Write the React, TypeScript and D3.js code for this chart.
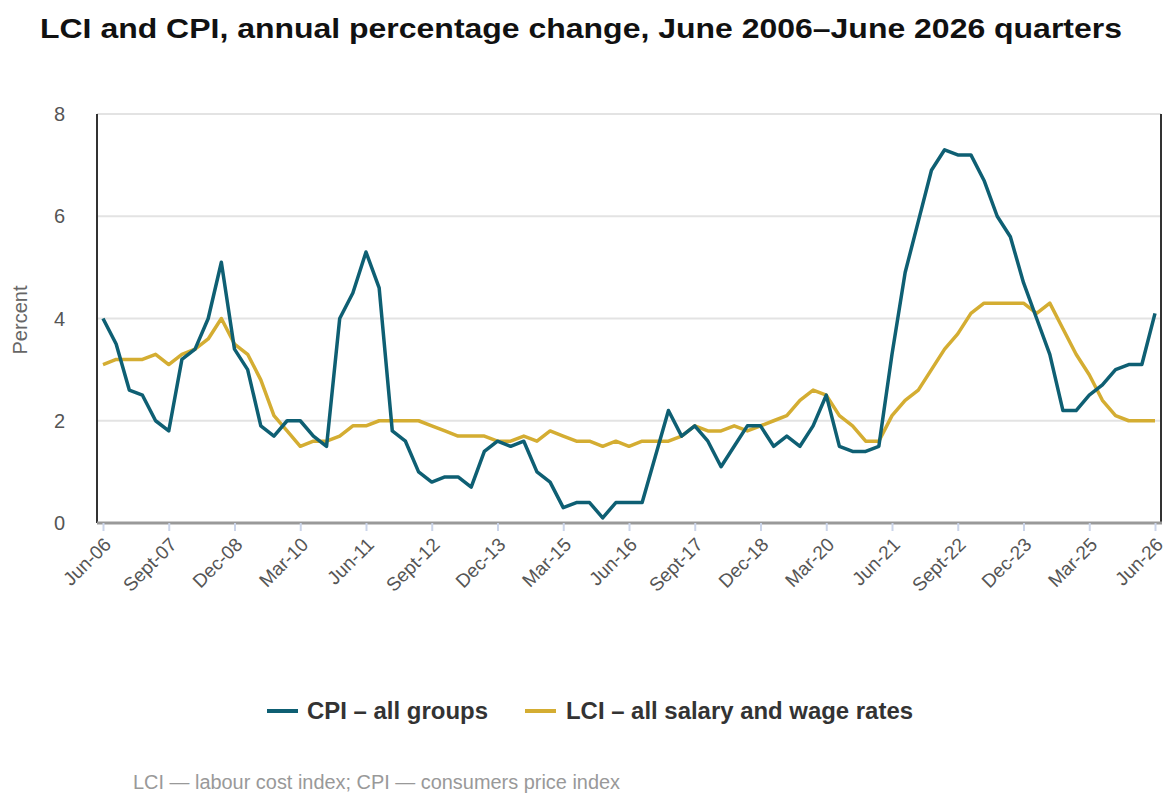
import { useEffect, useRef } from "react";
import * as d3 from "d3";

const W = 1171;
const H = 801;
const MARGIN = { top: 114, right: 8, bottom: 278, left: 97 };

const START_YEAR = 2006;
const MONTHS = ["Mar", "Jun", "Sept", "Dec"];

const cpi = [
  4.0, 3.5, 2.6, 2.5, 2.0, 1.8, 3.2, 3.4, 4.0, 5.1, 3.4, 3.0, 1.9, 1.7, 2.0, 2.0, 1.7, 1.5, 4.0, 4.5,
  5.3, 4.6, 1.8, 1.6, 1.0, 0.8, 0.9, 0.9, 0.7, 1.4, 1.6, 1.5, 1.6, 1.0, 0.8, 0.3, 0.4, 0.4, 0.1, 0.4,
  0.4, 0.4, 1.3, 2.2, 1.7, 1.9, 1.6, 1.1, 1.5, 1.9, 1.9, 1.5, 1.7, 1.5, 1.9, 2.5, 1.5, 1.4, 1.4, 1.5,
  3.3, 4.9, 5.9, 6.9, 7.3, 7.2, 7.2, 6.7, 6.0, 5.6, 4.7, 4.0, 3.3, 2.2, 2.2, 2.5, 2.7, 3.0, 3.1, 3.1,
  4.1,
];
const lci = [
  3.1, 3.2, 3.2, 3.2, 3.3, 3.1, 3.3, 3.4, 3.6, 4.0, 3.5, 3.3, 2.8, 2.1, 1.8, 1.5, 1.6, 1.6, 1.7, 1.9,
  1.9, 2.0, 2.0, 2.0, 2.0, 1.9, 1.8, 1.7, 1.7, 1.7, 1.6, 1.6, 1.7, 1.6, 1.8, 1.7, 1.6, 1.6, 1.5, 1.6,
  1.5, 1.6, 1.6, 1.6, 1.7, 1.9, 1.8, 1.8, 1.9, 1.8, 1.9, 2.0, 2.1, 2.4, 2.6, 2.5, 2.1, 1.9, 1.6, 1.6,
  2.1, 2.4, 2.6, 3.0, 3.4, 3.7, 4.1, 4.3, 4.3, 4.3, 4.3, 4.1, 4.3, 3.8, 3.3, 2.9, 2.4, 2.1, 2.0, 2.0,
  2.0,
];
const yTicks = [0, 2, 4, 6, 8];

const CPI_COLOR = "#0e5f73";
const LCI_COLOR = "#d4ad32";

// quarter index 0 = Jun-06
const quarterLabel = (i: number) => {
  const m = i + 1;
  const year = START_YEAR + Math.floor(m / 4);
  const yy = String(year % 100).padStart(2, "0");
  return `${MONTHS[m % 4]}-${yy}`;
};

export default function App() {
  const axesRef = useRef<SVGGElement>(null);
  const boundsWidth = W - MARGIN.left - MARGIN.right;
  const boundsHeight = H - MARGIN.top - MARGIN.bottom;

  const xScale = d3.scaleLinear().domain([0, cpi.length - 1]).range([6, 1058]);
  const yScale = d3.scaleLinear().domain([0, 8]).range([boundsHeight, 0]);
  const line = d3
    .line<number>()
    .x((_, i) => xScale(i))
    .y((d) => yScale(d));
  const xTicks = d3.range(0, cpi.length, 5);

  useEffect(() => {
    const g = d3.select(axesRef.current);
    g.selectAll("*").remove();
    const xAxis = g
      .append("g")
      .attr("transform", `translate(0,${boundsHeight})`)
      .call(
        d3
          .axisBottom(xScale)
          .tickValues(xTicks)
          .tickSize(8)
          .tickFormat((d) => quarterLabel(d as number))
      );
    xAxis.select(".domain").remove();
    xAxis.selectAll(".tick line").attr("stroke", "#cbd5ea").attr("stroke-width", 2);
    xAxis
      .selectAll(".tick text")
      .attr("fill", "#555")
      .attr("font-size", 19)
      .attr("font-family", "Arial, 'Liberation Sans', sans-serif")
      .attr("text-anchor", "end")
      .attr("y", 0)
      .attr("dy", "0.35em")
      .attr("transform", "translate(4,18) rotate(-45)");
  }, []);

  return (
    <svg width={W} height={H} style={{ position: "absolute", left: 0, top: 0 }}
      fontFamily="Arial, 'Liberation Sans', sans-serif">
      <text x={40} y={38} fontSize={27} fontWeight="bold" fill="#111" textLength={1082} lengthAdjust="spacingAndGlyphs">
        LCI and CPI, annual percentage change, June 2006–June 2026 quarters
      </text>
      <text transform="translate(27,320) rotate(-90)" textAnchor="middle" fontSize={20} fill="#666">
        Percent
      </text>
      <g transform={`translate(${MARGIN.left},${MARGIN.top})`}>
        {yTicks.map((t) => (
          <g key={t}>
            {t > 0 && (
              <line x1={0} x2={boundsWidth - 2} y1={yScale(t)} y2={yScale(t)} stroke="#e3e3e3" strokeWidth={2} />
            )}
            <text x={-32} y={yScale(t)} dy="0.35em" textAnchor="end" fontSize={20} fill="#555">
              {t}
            </text>
          </g>
        ))}
        <line x1={0} x2={0} y1={0} y2={boundsHeight} stroke="#333" strokeWidth={2} />
        <line x1={boundsWidth - 2} x2={boundsWidth - 2} y1={0} y2={boundsHeight} stroke="#333" strokeWidth={2} />
        <path d={line(lci) ?? ""} fill="none" stroke={LCI_COLOR} strokeWidth={3.5} strokeLinejoin="round" />
        <path d={line(cpi) ?? ""} fill="none" stroke={CPI_COLOR} strokeWidth={3.5} strokeLinejoin="round" />
        <line x1={0} x2={boundsWidth - 1} y1={boundsHeight} y2={boundsHeight} stroke="#999" strokeWidth={3} />
        <g ref={axesRef} />
      </g>
      <g fontSize={23} fontWeight="bold" fill="#333">
        <line x1={267} x2={298} y1={711} y2={711} stroke={CPI_COLOR} strokeWidth={4} />
        <text x={307} y={719} textLength={181} lengthAdjust="spacingAndGlyphs">CPI – all groups</text>
        <line x1={525} x2={556} y1={711} y2={711} stroke={LCI_COLOR} strokeWidth={4} />
        <text x={566} y={719} textLength={347} lengthAdjust="spacingAndGlyphs">LCI – all salary and wage rates</text>
      </g>
      <text x={133} y={789} fontSize={19.5} fill="#999" textLength={487} lengthAdjust="spacingAndGlyphs">
        LCI — labour cost index; CPI — consumers price index
      </text>
    </svg>
  );
}
